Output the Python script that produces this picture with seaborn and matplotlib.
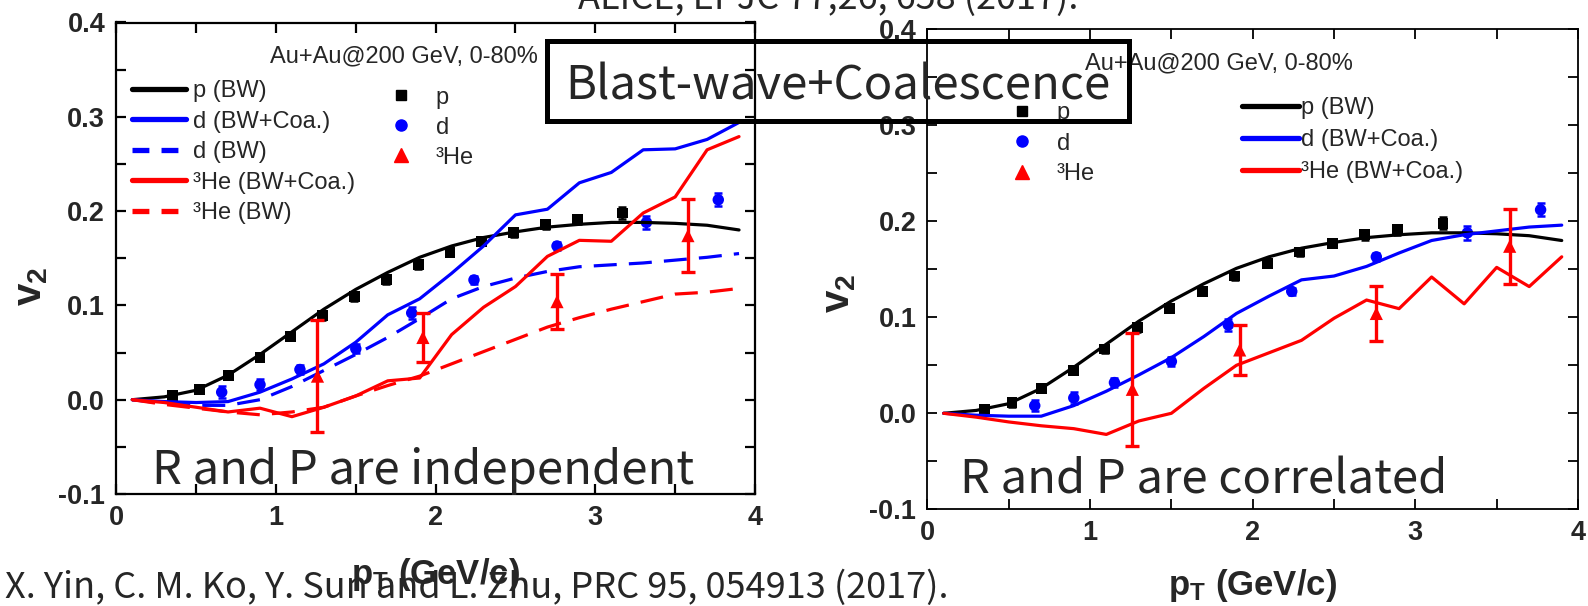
import matplotlib
matplotlib.use("Agg")
import matplotlib.pyplot as plt
import seaborn as sns
from matplotlib import font_manager
from matplotlib.lines import Line2D
from matplotlib.patches import Rectangle
from matplotlib.ticker import MultipleLocator

# ---------------- data ----------------
# model curves, sampled in pT (GeV/c)
pt_model = [0.1, 0.3, 0.5, 0.7, 0.9, 1.1, 1.3, 1.5, 1.7, 1.9,
            2.1, 2.3, 2.5, 2.7, 2.9, 3.1, 3.3, 3.5, 3.7, 3.9]
v2_p_bw = [0.000, 0.003, 0.010, 0.026, 0.048, 0.072, 0.096, 0.117, 0.135, 0.151,
           0.163, 0.172, 0.178, 0.183, 0.186, 0.188, 0.188, 0.187, 0.185, 0.180]
# independent R and P
v2_d_coa_ind = [0.000, -0.002, -0.003, -0.002, 0.008, 0.022, 0.038, 0.061, 0.090, 0.107,
                0.134, 0.163, 0.196, 0.202, 0.230, 0.241, 0.265, 0.266, 0.276, 0.294]
v2_d_bw = [0.000, -0.004, -0.006, -0.006, 0.000, 0.014, 0.031, 0.048, 0.066, 0.086,
           0.107, 0.120, 0.129, 0.136, 0.141, 0.143, 0.145, 0.148, 0.151, 0.155]
v2_he_coa_ind = [0.000, -0.003, -0.008, -0.013, -0.009, -0.018, -0.008, 0.004, 0.020, 0.023,
                 0.069, 0.098, 0.120, 0.152, 0.169, 0.168, 0.198, 0.215, 0.265, 0.279]
v2_he_bw = [0.000, -0.005, -0.009, -0.013, -0.016, -0.013, -0.008, 0.004, 0.015, 0.025,
            0.038, 0.051, 0.064, 0.077, 0.087, 0.096, 0.104, 0.112, 0.114, 0.118]
# correlated R and P
v2_d_coa_cor = [0.000, -0.002, -0.003, -0.003, 0.008, 0.023, 0.040, 0.058, 0.080, 0.104,
                0.122, 0.139, 0.143, 0.153, 0.167, 0.180, 0.186, 0.190, 0.194, 0.196]
v2_he_coa_cor = [0.000, -0.004, -0.009, -0.013, -0.016, -0.022, -0.008, 0.000, 0.026, 0.050,
                 0.063, 0.076, 0.099, 0.118, 0.109, 0.142, 0.114, 0.152, 0.132, 0.163]

# measured v2 (Au+Au 200 GeV, 0-80%)
pt_p = [0.35, 0.52, 0.70, 0.90, 1.09, 1.29, 1.49, 1.69, 1.89, 2.09, 2.29, 2.49, 2.69, 2.89, 3.17]
v2_p = [0.004, 0.011, 0.026, 0.045, 0.067, 0.089, 0.109, 0.127, 0.143, 0.156,
        0.168, 0.177, 0.186, 0.191, 0.198]
err_p = [0.004, 0.004, 0.004, 0.004, 0.004, 0.004, 0.004, 0.004, 0.004, 0.004,
         0.004, 0.004, 0.005, 0.005, 0.006]
pt_d = [0.66, 0.90, 1.15, 1.50, 1.85, 2.24, 2.76, 3.32, 3.77]
v2_d = [0.008, 0.016, 0.032, 0.054, 0.092, 0.127, 0.163, 0.188, 0.212]
err_d = [0.006, 0.006, 0.005, 0.005, 0.006, 0.004, 0.004, 0.007, 0.007]
pt_he = [1.26, 1.92, 2.76, 3.58]
v2_he = [0.025, 0.066, 0.104, 0.174]
err_he = [0.059, 0.026, 0.029, 0.039]

y_ticks = [-0.1, 0.0, 0.1, 0.2, 0.3, 0.4]
y_ticklabels = ["-0.1", "0.0", "0.1", "0.2", "0.3", "0.4"]
x_ticks = [0, 1, 2, 3, 4]
x_ticklabels = ["0", "1", "2", "3", "4"]

# ---------------- style ----------------
sns.set_style("ticks")
plt.rcParams["font.family"] = ["Liberation Sans", "DejaVu Sans"]
plt.rcParams["axes.unicode_minus"] = False

installed = {f.name for f in font_manager.fontManager.ttflist}
HAS_NARROW = "Liberation Sans Narrow" in installed
NARROW = "Liberation Sans Narrow" if HAS_NARROW else "Liberation Sans"
TICK_SIZE = 21 if HAS_NARROW else 19.5

plt.rcParams["mathtext.fontset"] = "custom"
plt.rcParams["mathtext.rm"] = NARROW
plt.rcParams["mathtext.bf"] = NARROW + ":bold"
plt.rcParams["mathtext.it"] = NARROW + ":italic"

BLACK, BLUE, RED = "#000000", "#0000ff", "#ff0000"
W, H = 1588, 606
fig = plt.figure(figsize=(W / 100, H / 100), dpi=100)
fig.patch.set_facecolor("white")

CJK = ["Noto Sans CJK SC", "DejaVu Sans"]


def px(x, y):
    """pixel position (from top-left) -> figure fraction"""
    return x / W, 1 - y / H


def curve(ax, y, color, dashed=False, lw=2.3):
    sns.lineplot(x=pt_model, y=y, ax=ax, color=color, lw=lw, sort=False,
                 estimator=None, legend=False, zorder=4)
    if dashed:
        ax.lines[-1].set_dashes([7.2, 3.8])


def points(ax):
    ax.errorbar(pt_p, v2_p, yerr=err_p, fmt="none", ecolor=BLACK,
                elinewidth=1.8, capsize=3, capthick=1.8, zorder=3)
    sns.scatterplot(x=pt_p, y=v2_p, ax=ax, marker="s", s=62, color=BLACK,
                    edgecolor="none", legend=False, zorder=3)
    ax.errorbar(pt_d, v2_d, yerr=err_d, fmt="none", ecolor=BLUE,
                elinewidth=1.8, capsize=3, capthick=1.8, zorder=3)
    sns.scatterplot(x=pt_d, y=v2_d, ax=ax, marker="o", s=68, color=BLUE,
                    edgecolor="none", legend=False, zorder=3)
    ax.errorbar(pt_he, v2_he, yerr=err_he, fmt="none", ecolor=RED,
                elinewidth=2.4, capsize=5, capthick=2.4, zorder=5)
    sns.scatterplot(x=pt_he, y=v2_he, ax=ax, marker="^", s=90, color=RED,
                    edgecolor="none", legend=False, zorder=5)


def frame(ax, spine_lw):
    ax.set_xlim(0, 4)
    ax.set_ylim(-0.1, 0.4)
    ax.set_xticks(x_ticks, labels=x_ticklabels)
    ax.set_yticks(y_ticks, labels=y_ticklabels)
    ax.xaxis.set_minor_locator(MultipleLocator(0.5))
    ax.yaxis.set_minor_locator(MultipleLocator(0.05))
    ax.tick_params(which="both", direction="in", top=True, right=True,
                   length=7.5, width=spine_lw, color=BLACK)
    ax.tick_params(axis="both", which="major", labelsize=TICK_SIZE, pad=8)
    for lab in ax.get_xticklabels() + ax.get_yticklabels():
        lab.set_fontweight("bold")
        lab.set_family(NARROW)
    for s in ax.spines.values():
        s.set_linewidth(spine_lw)
        s.set_color(BLACK)
    ax.set_facecolor("white")
    ax.set_xlabel(r"$\mathbf{p}_\mathbf{T}$ (GeV/c)", fontsize=25, fontweight="bold",
                  family=NARROW, va="center")
    ax.set_ylabel(r"$\mathbf{v}_\mathbf{2}$", fontsize=29, fontweight="bold",
                  family=NARROW, va="center", ha="center")


def line_handle(color, dashed=False):
    h = Line2D([], [], color=color, lw=3.8)
    if dashed:
        h.set_dashes([3.2, 2.3])
    return h


def marker_handles():
    return [Line2D([], [], ls="none", marker="s", ms=7, color=BLACK),
            Line2D([], [], ls="none", marker="o", ms=8, color=BLUE),
            Line2D([], [], ls="none", marker="^", ms=9.5, color=RED)]


LEG = dict(loc="upper left", frameon=False, fontsize=17, borderpad=0, borderaxespad=0)

# ---------------- left panel: R and P independent ----------------
axL = fig.add_axes([116.3 / W, (H - 494) / H, 638.7 / W, 471.5 / H])
curve(axL, v2_p_bw, BLACK)
curve(axL, v2_d_coa_ind, BLUE)
curve(axL, v2_d_bw, BLUE, dashed=True)
curve(axL, v2_he_coa_ind, RED)
curve(axL, v2_he_bw, RED, dashed=True)
points(axL)
frame(axL, 1.6)
axL.xaxis.set_label_coords(0.5, -0.17)
axL.yaxis.set_label_coords(-0.134, 0.44)

legL1 = axL.legend(
    handles=[line_handle(BLACK), line_handle(BLUE), line_handle(BLUE, True),
             line_handle(RED), line_handle(RED, True)],
    labels=["p (BW)", "d (BW+Coa.)", "d (BW)", "\u00b3He (BW+Coa.)", "\u00b3He (BW)"],
    bbox_to_anchor=(0.024, 0.878), handlelength=2.3, handletextpad=0.28,
    labelspacing=0.36, **LEG)
axL.add_artist(legL1)
axL.legend(handles=marker_handles(), labels=["p", "d", "\u00b3He"],
           bbox_to_anchor=(0.428, 0.864), handlelength=1.0, handletextpad=0.95,
           labelspacing=0.34, **LEG)
axL.text(0.240, 0.9275, "Au+Au@200 GeV, 0-80%", transform=axL.transAxes,
         fontsize=17, ha="left", va="center")

# ---------------- right panel: R and P correlated ----------------
axR = fig.add_axes([927.4 / W, (H - 509.3) / H, 650.6 / W, 480 / H])
curve(axR, v2_p_bw, BLACK)
curve(axR, v2_d_coa_cor, BLUE)
curve(axR, v2_he_coa_cor, RED)
points(axR)
frame(axR, 1.3)
axR.xaxis.set_label_coords(0.5, -0.158)
axR.yaxis.set_label_coords(-0.136, 0.45)

legR1 = axR.legend(
    handles=[line_handle(BLACK), line_handle(BLUE), line_handle(RED)],
    labels=["p (BW)", "d (BW+Coa.)", "\u00b3He (BW+Coa.)"],
    bbox_to_anchor=(0.4835, 0.858), handlelength=2.4, handletextpad=0.1,
    labelspacing=0.42, **LEG)
axR.add_artist(legR1)
axR.legend(handles=marker_handles(), labels=["p", "d", "\u00b3He"],
           bbox_to_anchor=(0.128, 0.848), handlelength=1.0, handletextpad=0.95,
           labelspacing=0.36, **LEG)
axR.text(0.242, 0.929, "Au+Au@200 GeV, 0-80%", transform=axR.transAxes,
         fontsize=17, ha="left", va="center")

# ---------------- slide annotations ----------------
x0, y0 = px(547, 121)
fig.add_artist(Rectangle((x0, y0), (1129 - 547) / W, 80 / H, transform=fig.transFigure,
                         fill=False, ec=BLACK, lw=3.6, zorder=10))
fig.text(*px(838, 99), "Blast-wave+Coalescence", family=CJK, fontsize=34,
         fontweight="medium", ha="center", va="baseline", zorder=11)
fig.text(*px(152, 484), "R and P are independent", family=CJK, fontsize=34,
         fontweight="medium", ha="left", va="baseline", zorder=11)
fig.text(*px(960, 494), "R and P are correlated", family=CJK, fontsize=34,
         fontweight="medium", ha="left", va="baseline", zorder=11)
fig.text(*px(5, 598), "X. Yin, C. M. Ko, Y. Sun and L. Zhu, PRC 95, 054913 (2017).",
         family=CJK, fontweight="light", fontsize=26, ha="left", va="baseline", zorder=11)
fig.text(*px(828, 9), "ALICE, EPJC 77,26, 658 (2017).",
         family=CJK, fontweight="light", fontsize=26, ha="center", va="baseline", zorder=11)

fig.savefig("out.png", dpi=100, facecolor="white")
